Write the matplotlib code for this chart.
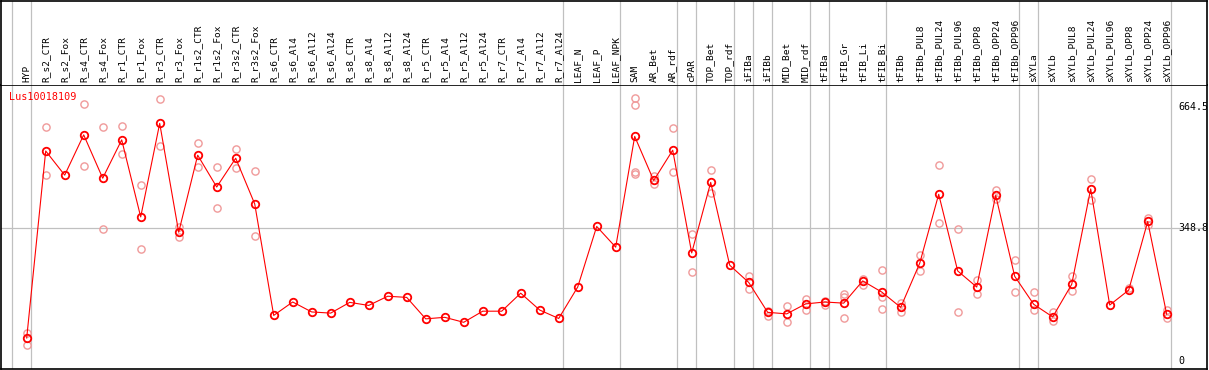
import matplotlib

matplotlib.use("Agg")
import matplotlib.pyplot as plt

plt.rcParams["font.family"] = ["DejaVu Sans Mono"]

gene = "Lus10018109"

samples = [
    "HYP", "R_s2_CTR", "R_s2_Fox", "R_s4_CTR", "R_s4_Fox", "R_r1_CTR", "R_r1_Fox",
    "R_r3_CTR", "R_r3_Fox", "R_r1s2_CTR", "R_r1s2_Fox", "R_r3s2_CTR", "R_r3s2_Fox",
    "R_s6_CTR", "R_s6_Al4", "R_s6_Al12", "R_s6_Al24", "R_s8_CTR", "R_s8_Al4",
    "R_s8_Al12", "R_s8_Al24", "R_r5_CTR", "R_r5_Al4", "R_r5_Al12", "R_r5_Al24",
    "R_r7_CTR", "R_r7_Al4", "R_r7_Al12", "R_r7_Al24", "LEAF_N", "LEAF_P", "LEAF_NPK",
    "SAM", "AR_Bet", "AR_rdf", "cPAR", "TOP_Bet", "TOP_rdf", "iFIBa", "iFIBb",
    "MID_Bet", "MID_rdf", "tFIBa", "tFIB_Gr", "tFIB_Li", "tFIB_Bi", "tFIBb",
    "tFIBb_PUL8", "tFIBb_PUL24", "tFIBb_PUL96", "tFIBb_OPP8", "tFIBb_OPP24",
    "tFIBb_OPP96", "sXYLa", "sXYLb", "sXYLb_PUL8", "sXYLb_PUL24", "sXYLb_PUL96",
    "sXYLb_OPP8", "sXYLb_OPP24", "sXYLb_OPP96",
]

means = [
    61, 549, 486, 591, 478, 578, 377, 621, 337, 538, 455, 530, 411,
    120, 155, 129, 126, 154, 146, 170, 167, 111, 115, 102, 131,
    131, 178, 134, 112, 194, 352, 298,
    587, 472, 551, 283, 467, 251, 206, 128, 124, 150, 155, 152, 210, 181,
    141, 256, 436, 236, 194, 433, 222,
    149, 116, 201, 450, 147, 186, 365, 123,
]

replicates = [
    [75, 42], [611, 486], [], [671, 509], [611, 345], [614, 540], [459, 292],
    [685, 561], [350, 325], [569, 506], [506, 400], [553, 504], [497, 327],
    [], [], [], [], [], [], [], [], [], [], [], [], [], [], [], [], [], [], [],
    [687, 669, 495, 490], [484, 464], [608, 493], [332, 232], [499, 439], [],
    [222, 189], [132, 119], [144, 104], [162, 134], [158, 147], [175, 167, 112],
    [216, 199], [238, 167, 136],
    [152, 130], [277, 237], [512, 362], [345, 128], [212, 176], [448, 423], [264, 180],
    [180, 134], [128, 106], [224, 183], [476, 421], [], [192], [373, 355], [135, 112],
]

# index of the last sample in each group (a separator is drawn after it)
group_ends = [-1, 0, 28, 31, 34, 35, 37, 38, 39, 41, 42, 45, 52, 53, 60]
y_marks = [0, 348.8, 664.5]

W, H = 1209, 370
fig = plt.figure(figsize=(W / 100, H / 100), dpi=100)

# pixel geometry of the plot: column i sits at 26.7 + 19*i, value v at 361.4 - 0.3833*v
x0, x1 = 1, 1207
top, bottom = 85, 369
xlim = ((x0 - 26.7) / 19, (x1 - 26.7) / 19)
ylim = ((361.4 - bottom) / 0.3833, (361.4 - top) / 0.3833)

ax = fig.add_axes([x0 / W, (H - bottom) / H, (x1 - x0) / W, (bottom - top) / H])
head = fig.add_axes([x0 / W, (H - top) / H, (x1 - x0) / W, (top - 0.5) / H])

for a in (ax, head):
    a.set_xlim(*xlim)
    a.set_xticks([])
    a.set_yticks([])
    for sp in a.spines.values():
        sp.set_color("black")
        sp.set_linewidth(1.2)
    for g in group_ends:
        a.axvline(g + 0.2, color="#c0c0c0", lw=0.9, zorder=0)

ax.set_ylim(*ylim)
head.set_ylim(0, 1)
head.spines["bottom"].set_visible(False)

ax.axhline(348.8, color="#c0c0c0", lw=0.9, zorder=0)

xs = list(range(len(samples)))
for i, reps in enumerate(replicates):
    if reps:
        ax.plot([i] * len(reps), reps, linestyle="none", marker="o", ms=5.2,
                mfc="none", mec="#f09a9a", mew=1.0, zorder=2)

ax.plot(xs, means, color="red", lw=0.8, zorder=3)
ax.plot(xs, means, linestyle="none", marker="o", ms=5.4, mfc="none",
        mec="red", mew=1.3, zorder=4)

for i, name in enumerate(samples):
    head.text(i, 0.03, name, rotation=90, ha="center", va="bottom",
              fontsize=6.8, color="black")

ax.text((9 - 26.7) / 19, (361.4 - 97) / 0.3833, gene, color="red",
        fontsize=7.3, ha="left", va="center")

for v in y_marks:
    ax.text((1178 - 26.7) / 19, v, f"{v:g}", fontsize=7.2, ha="left",
            va="center", color="black")

fig.savefig("out.png", dpi=100)
